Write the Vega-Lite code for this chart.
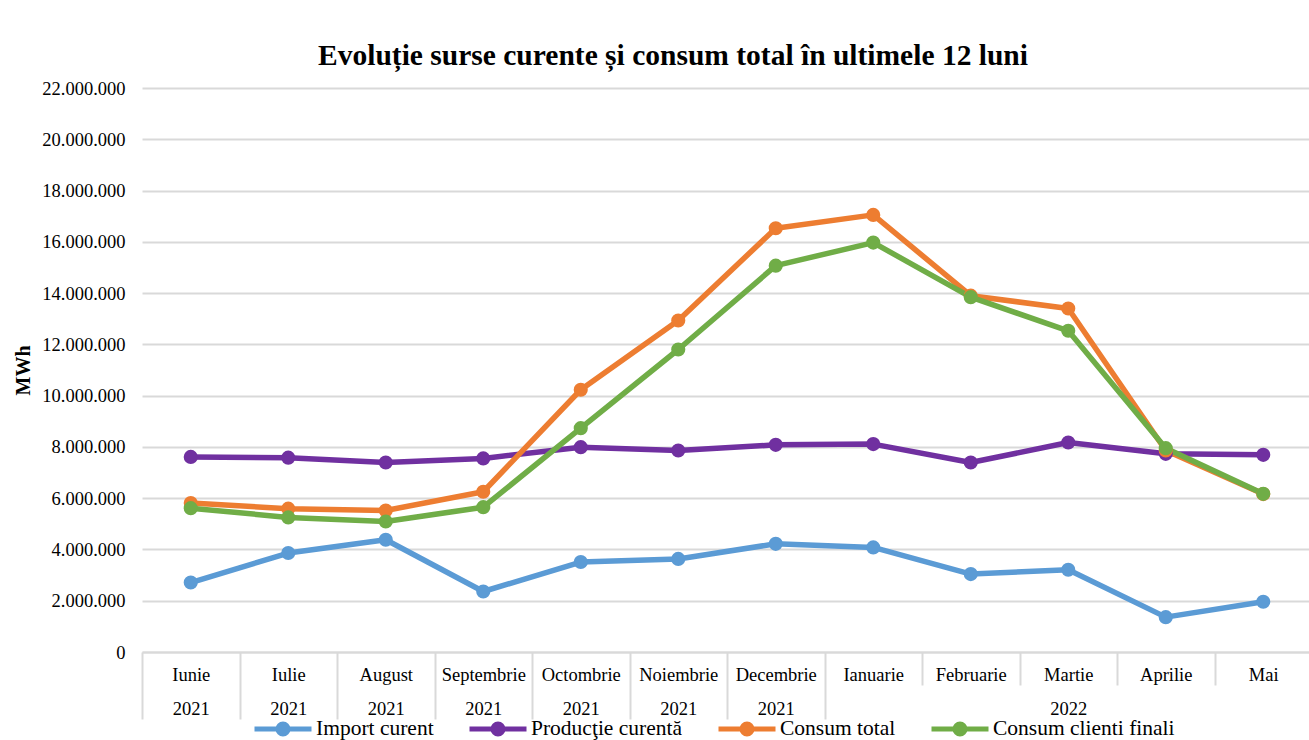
{
  "$schema": "https://vega.github.io/schema/vega-lite/v6.json",
  "autosize": "none",
  "width": 1170,
  "height": 564,
  "padding": {"left": 142, "top": 88, "right": 0, "bottom": 88},
  "background": "white",
  "title": {
    "text": "Evoluție surse curente și consum total în ultimele 12 luni",
    "font": "Liberation Serif",
    "fontSize": 29.5,
    "fontWeight": "bold",
    "color": "black",
    "anchor": "middle",
    "frame": "group",
    "dx": -54,
    "offset": 8
  },
  "config": {
    "view": {"stroke": null},
    "axis": {"labelFont": "Liberation Serif", "titleFont": "Liberation Serif", "labelColor": "black", "titleColor": "black"},
    "legend": {"labelFont": "Liberation Serif", "labelColor": "black"}
  },
  "data": {
    "values": [
      {"luna": "Iunie", "serie": "Import curent", "valoare": 2710000},
      {"luna": "Iulie", "serie": "Import curent", "valoare": 3860000},
      {"luna": "August", "serie": "Import curent", "valoare": 4380000},
      {"luna": "Septembrie", "serie": "Import curent", "valoare": 2360000},
      {"luna": "Octombrie", "serie": "Import curent", "valoare": 3510000},
      {"luna": "Noiembrie", "serie": "Import curent", "valoare": 3630000},
      {"luna": "Decembrie", "serie": "Import curent", "valoare": 4220000},
      {"luna": "Ianuarie", "serie": "Import curent", "valoare": 4080000},
      {"luna": "Februarie", "serie": "Import curent", "valoare": 3040000},
      {"luna": "Martie", "serie": "Import curent", "valoare": 3210000},
      {"luna": "Aprilie", "serie": "Import curent", "valoare": 1360000},
      {"luna": "Mai", "serie": "Import curent", "valoare": 1960000},
      {"luna": "Iunie", "serie": "Producţie curentă", "valoare": 7610000},
      {"luna": "Iulie", "serie": "Producţie curentă", "valoare": 7580000},
      {"luna": "August", "serie": "Producţie curentă", "valoare": 7390000},
      {"luna": "Septembrie", "serie": "Producţie curentă", "valoare": 7550000},
      {"luna": "Octombrie", "serie": "Producţie curentă", "valoare": 7990000},
      {"luna": "Noiembrie", "serie": "Producţie curentă", "valoare": 7860000},
      {"luna": "Decembrie", "serie": "Producţie curentă", "valoare": 8080000},
      {"luna": "Ianuarie", "serie": "Producţie curentă", "valoare": 8110000},
      {"luna": "Februarie", "serie": "Producţie curentă", "valoare": 7390000},
      {"luna": "Martie", "serie": "Producţie curentă", "valoare": 8170000},
      {"luna": "Aprilie", "serie": "Producţie curentă", "valoare": 7730000},
      {"luna": "Mai", "serie": "Producţie curentă", "valoare": 7690000},
      {"luna": "Iunie", "serie": "Consum total", "valoare": 5810000},
      {"luna": "Iulie", "serie": "Consum total", "valoare": 5590000},
      {"luna": "August", "serie": "Consum total", "valoare": 5520000},
      {"luna": "Septembrie", "serie": "Consum total", "valoare": 6250000},
      {"luna": "Octombrie", "serie": "Consum total", "valoare": 10230000},
      {"luna": "Noiembrie", "serie": "Consum total", "valoare": 12930000},
      {"luna": "Decembrie", "serie": "Consum total", "valoare": 16530000},
      {"luna": "Ianuarie", "serie": "Consum total", "valoare": 17050000},
      {"luna": "Februarie", "serie": "Consum total", "valoare": 13900000},
      {"luna": "Martie", "serie": "Consum total", "valoare": 13400000},
      {"luna": "Aprilie", "serie": "Consum total", "valoare": 7860000},
      {"luna": "Mai", "serie": "Consum total", "valoare": 6160000},
      {"luna": "Iunie", "serie": "Consum clienti finali", "valoare": 5610000},
      {"luna": "Iulie", "serie": "Consum clienti finali", "valoare": 5250000},
      {"luna": "August", "serie": "Consum clienti finali", "valoare": 5090000},
      {"luna": "Septembrie", "serie": "Consum clienti finali", "valoare": 5650000},
      {"luna": "Octombrie", "serie": "Consum clienti finali", "valoare": 8730000},
      {"luna": "Noiembrie", "serie": "Consum clienti finali", "valoare": 11800000},
      {"luna": "Decembrie", "serie": "Consum clienti finali", "valoare": 15070000},
      {"luna": "Ianuarie", "serie": "Consum clienti finali", "valoare": 15970000},
      {"luna": "Februarie", "serie": "Consum clienti finali", "valoare": 13840000},
      {"luna": "Martie", "serie": "Consum clienti finali", "valoare": 12530000},
      {"luna": "Aprilie", "serie": "Consum clienti finali", "valoare": 7950000},
      {"luna": "Mai", "serie": "Consum clienti finali", "valoare": 6170000}
    ]
  },
  "mark": {
    "type": "line",
    "strokeWidth": 5.5,
    "strokeJoin": "round",
    "point": {"filled": true, "size": 200}
  },
  "encoding": {
    "x": {
      "field": "luna",
      "type": "nominal",
      "bandPosition": 0.5,
      "sort": ["Iunie", "Iulie", "August", "Septembrie", "Octombrie", "Noiembrie", "Decembrie", "Ianuarie", "Februarie", "Martie", "Aprilie", "Mai"],
      "scale": {"type": "band", "paddingInner": 0, "paddingOuter": 0},
      "axis": {
        "title": null,
        "grid": false,
        "domainColor": "#d9d9d9",
        "domainWidth": 2,
        "tickBand": "extent",
        "tickColor": "#d9d9d9",
        "tickWidth": 2,
        "tickSize": {
          "condition": {
            "test": "datum.extra || indexof(['Iunie','Iulie','August','Septembrie','Octombrie','Noiembrie','Decembrie'], datum.value) >= 0",
            "value": 67
          },
          "value": 33
        },
        "labelAngle": 0,
        "labelFontSize": 18.5,
        "labelLineHeight": 34,
        "labelPadding": {
          "condition": {
            "test": "datum.extra || indexof(['Iunie','Iulie','August','Septembrie','Octombrie','Noiembrie','Decembrie'], datum.value) >= 0",
            "value": -54
          },
          "value": -20
        },
        "labelOverlap": false,
        "labelExpr": "!isValid(datum.value) ? '' : datum.value == 'Martie' ? ['Martie', '2022'] : indexof(['Ianuarie','Februarie','Aprilie','Mai'], datum.value) >= 0 ? [datum.value, ''] : [datum.value, '2021']"
      }
    },
    "y": {
      "field": "valoare",
      "type": "quantitative",
      "scale": {"domain": [0, 22000000], "nice": false},
      "axis": {
        "title": "MWh",
        "titleFontSize": 20,
        "titleFontWeight": "bold",
        "titlePadding": 8,
        "values": [0, 2000000, 4000000, 6000000, 8000000, 10000000, 12000000, 14000000, 16000000, 18000000, 20000000, 22000000],
        "labelExpr": "replace(format(datum.value, ',.0f'), regexp(',', 'g'), '.')",
        "labelFontSize": 18.5,
        "labelPadding": 17,
        "ticks": false,
        "domain": false,
        "gridColor": "#d9d9d9",
        "gridWidth": 2
      }
    },
    "color": {
      "field": "serie",
      "type": "nominal",
      "sort": ["Import curent", "Producţie curentă", "Consum total", "Consum clienti finali"],
      "scale": {
        "domain": ["Import curent", "Producţie curentă", "Consum total", "Consum clienti finali"],
        "range": ["#5B9BD5", "#7030A0", "#ED7D31", "#70AD47"]
      },
      "legend": {
        "title": null,
        "orient": "none",
        "direction": "horizontal",
        "legendX": 110,
        "legendY": 610,
        "labelFontSize": 21.5,
        "labelLimit": 400,
        "labelOffset": 2,
        "columnPadding": 25,
        "symbolType": "M-1,0H1M0.175,0A0.175,0.175 0 1,1 -0.175,0A0.175,0.175 0 1,1 0.175,0Z",
        "symbolSize": 3249,
        "symbolStrokeWidth": 5,
        "encode": {
          "symbols": {"update": {"fill": {"scale": "color", "field": "value"}}}
        }
      }
    }
  }
}
